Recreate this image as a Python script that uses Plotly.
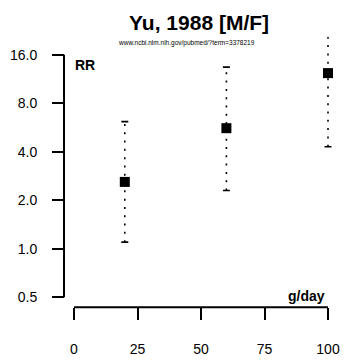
import math
import plotly.graph_objects as go

# data (relative risk by intake, g/day)
dose = [20, 60, 100]
rr = [2.6, 5.6, 12.3]
rr_low = [1.1, 2.3, 4.3]
rr_high = [6.15, 13.4, 24.0]

y_ticks = [0.5, 1, 2, 4, 8, 16]
y_ticktext = ["0.5", "1.0", "2.0", "4.0", "8.0", "16.0"]
x_ticks = [0, 25, 50, 75, 100]
x_ticktext = ["0", "25", "50", "75", "100"]

W, H = 352, 361
FONT = "Liberation Sans, Arial, Helvetica, sans-serif"

# pixel layout of the frame
x0_px, x100_px = 74, 328          # where 0 and 100 sit
px_per_unit = (x100_px - x0_px) / 100
y16_px, px_per_doubling = 55, 48.8
plot_top, plot_bot = 37, 305
plot_left, plot_right = 50, 350
yaxis_px = 64
xaxis_px = 309


def ypix_to_log10(py):
    return (4 - (py - y16_px) / px_per_doubling) * math.log10(2)


fig = go.Figure()

# dotted confidence intervals
for d, lo, hi in zip(dose, rr_low, rr_high):
    fig.add_trace(go.Scatter(
        x=[d, d], y=[lo, hi], mode="lines",
        line=dict(color="black", width=1.6, dash="2px,6.3px"),
        hoverinfo="skip"))

# small end caps
fig.add_trace(go.Scatter(
    x=dose + dose, y=rr_low + rr_high, mode="markers",
    marker=dict(symbol="line-ew", size=5, line=dict(color="black", width=1.6)),
    hoverinfo="skip"))

# point estimates
fig.add_trace(go.Scatter(
    x=dose, y=rr, mode="markers",
    marker=dict(symbol="square", size=10, color="black"),
    cliponaxis=False))

# detached axis lines (R style)
fig.add_shape(type="line", xref="paper", yref="y",
              x0=yaxis_px / W, x1=yaxis_px / W, y0=y_ticks[0], y1=y_ticks[-1],
              line=dict(color="black", width=2))
fig.add_shape(type="line", xref="x", yref="paper",
              x0=x_ticks[0], x1=x_ticks[-1], y0=1 - xaxis_px / H, y1=1 - xaxis_px / H,
              line=dict(color="black", width=2))

fig.update_xaxes(
    domain=[plot_left / W, plot_right / W],
    range=[(plot_left - x0_px) / px_per_unit, (plot_right - x0_px) / px_per_unit],
    anchor="free", position=1 - xaxis_px / H,
    showgrid=False, zeroline=False, showline=False,
    tickvals=x_ticks, ticktext=x_ticktext,
    ticks="outside", ticklen=12, tickwidth=2, tickcolor="black",
    ticklabelstandoff=17,
    tickfont=dict(family=FONT, size=14, color="black"))

fig.update_yaxes(
    type="log",
    domain=[1 - plot_bot / H, 1 - plot_top / H],
    range=[ypix_to_log10(plot_bot), ypix_to_log10(plot_top)],
    anchor="free", position=yaxis_px / W,
    showgrid=False, zeroline=False, showline=False,
    tickvals=y_ticks, ticktext=y_ticktext,
    ticks="outside", ticklen=12, tickwidth=2, tickcolor="black",
    ticklabelstandoff=12,
    tickfont=dict(family=FONT, size=14, color="black"))

texts = [
    (199, 23, "<b>Yu, 1988 [M/F]</b>", 21, "center"),
    (186.5, 43, "www.ncbi.nlm.nih.gov/pubmed/?term=3378219", 6.5, "center"),
    (73, 65, "<b>RR</b>", 14, "left"),
    (327, 298, "<b>g/day</b>", 14, "right"),
]
for px, py, txt, size, anchor in texts:
    fig.add_annotation(x=px / W, y=1 - py / H, xref="paper", yref="paper",
                       xanchor=anchor, yanchor="middle", text=txt, showarrow=False,
                       font=dict(family=FONT, size=size, color="black"))

fig.update_layout(
    width=W, height=H,
    margin=dict(l=0, r=0, t=0, b=0),
    showlegend=False,
    plot_bgcolor="white", paper_bgcolor="white")

fig.write_html("out.html", config={"displayModeBar": False},
               post_script="document.body.style.margin='0';")
